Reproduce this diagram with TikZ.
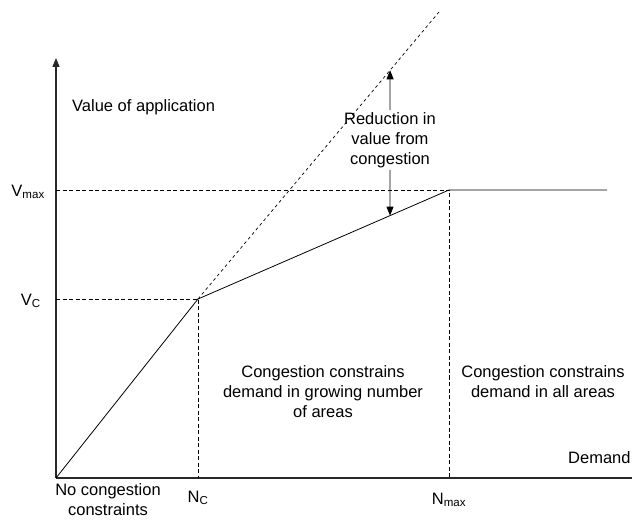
\documentclass[tikz,border=0pt]{standalone}
\usepackage{fontspec}
\setmainfont{Liberation Sans}
\usetikzlibrary{arrows.meta}
\definecolor{axisGray}{RGB}{40,40,40}

\begin{document}
\begin{tikzpicture}[x=1pt,y=1pt,
  lbl/.style={font=\fontsize{16.5}{20}\selectfont,align=center,inner sep=2pt},
  guide/.style={dashed,dash pattern=on 4pt off 2.5pt,line width=0.7pt},
  axis/.style={line width=1.3pt,draw=axisGray},
  tip/.style={-{Triangle[length=9pt,width=7pt]}}]
\useasboundingbox (-56,-42) rectangle (576,478);
% Axes
\coordinate (O) at (0,0);
\coordinate (ytop) at (0,420);
\coordinate (xend) at (580,0);
\draw[axis,tip] (O) -- (ytop);
\draw[axis] (O) -- (xend);
% Value curve
\coordinate (C) at (142,179);
\coordinate (M) at (393,288);
\coordinate (flat) at (551,288);
\coordinate (top) at (383,466);
\coordinate (vc) at (0,179);
\coordinate (vm) at (0,288);
\coordinate (nc) at (142,0);
\coordinate (nm) at (393,0);
\draw[line width=0.8pt] (O) -- (C) -- (M) -- (flat);
\draw[dashed,dash pattern=on 3pt off 3pt,line width=0.7pt] (C) -- (top);
% Guide lines
\draw[guide] (vc) -- (C) -- (nc);
\draw[guide] (vm) -- (M) -- (nm);
% Axis labels
\node[lbl,anchor=east] (vmax) at (-9,286) {V\textsubscript{max}};
\node[lbl,anchor=east] (vcl) at (-13,177) {V\textsubscript{C}};
\node[lbl] (ncl) at (142,-20) {N\textsubscript{C}};
\node[lbl] (nml) at (393,-22) {N\textsubscript{max}};
\node[lbl,anchor=west] (yl) at (14,371) {Value of application};
\node[lbl,anchor=west] (xl) at (510,20) {Demand};
% Region labels
\node[lbl,inner sep=0pt] (r1) at (52,-22) {No congestion\\constraints};
\node[lbl] (r2) at (267,86) {Congestion constrains\\demand in growing number\\of areas};
\node[lbl] (r3) at (487,96) {Congestion constrains\\demand in all areas};
% Reduction arrows
\node[lbl] (red) at (334,338) {Reduction in\\value from\\congestion};
\path (C) -- (top) coordinate[pos=0.797] (redtop);
\path (C) -- (M) coordinate[pos=0.765] (redbot);
\draw[line width=0.8pt,tip] (red.north) -- (redtop);
\draw[line width=0.8pt,tip] (red.south) -- (redbot);
\end{tikzpicture}
\end{document}
